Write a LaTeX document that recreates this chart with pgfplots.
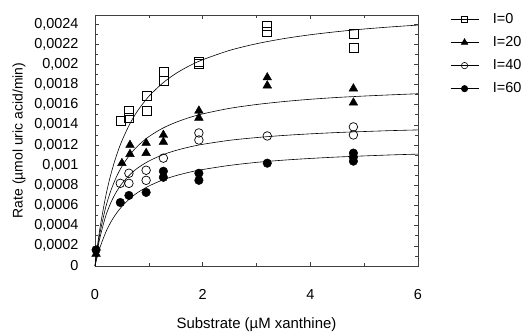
\documentclass[border=0pt]{standalone}
\usepackage{fontspec}
\setmainfont{Liberation Sans}
\usepackage{pgfplots}
\pgfplotsset{compat=1.18}
\begin{document}
\begin{tikzpicture}[x=1bp,y=1bp]
\begin{axis}[
  scale only axis, width=323bp, height=251bp,
  xmin=0, xmax=6, ymin=0, ymax=0.00249,
  xtick={0,2,4,6}, minor xtick={1,3,5},
  ytick={0,0.0002,...,0.0024}, minor ytick={0.0001,0.0003,...,0.0023},
  tick align=inside, major tick length=4bp, minor tick length=3bp,
  scaled y ticks=false, scaled x ticks=false,
  /pgf/number format/assume math mode=true,
  yticklabel style={/pgf/number format/fixed, /pgf/number format/precision=4, /pgf/number format/use comma, font=\fontsize{14.5}{16}\selectfont, xshift=-13bp},
  xticklabel style={font=\fontsize{14.5}{16}\selectfont, yshift=-20bp},
  xlabel={Substrate (µM xanthine)}, ylabel={Rate (µmol uric acid/min)},
  xlabel style={font=\fontsize{15}{17}\selectfont, yshift=-11bp},
  ylabel style={font=\fontsize{14}{16}\selectfont, yshift=2bp},
  axis line style={black!75, line width=0.8pt},
  every tick/.style={black!75, line width=0.6pt},
  legend style={draw=none, at={(1.09,1.022)}, anchor=north west, font=\fontsize{14.5}{16}\selectfont, row sep=7.5bp, fill=none},
  legend image code/.code={\draw[mark repeat=2,mark phase=2] plot coordinates {(0bp,0bp) (14bp,0bp) (28bp,0bp)};},
  legend cell align=left,
  clip=false,
]
% legend series (markers with line)
\addlegendimage{black, line width=0.6pt, mark=square, mark size=3.2bp, mark options={solid, fill=white}}
\addlegendentry{\hspace*{12bp}I=0}
\addlegendimage{black, line width=0.6pt, mark=triangle*, mark size=3.8bp, mark options={solid, fill=black}}
\addlegendentry{\hspace*{12bp}I=20}
\addlegendimage{black, line width=0.6pt, mark=o, mark size=3.2bp, mark options={solid, fill=white}}
\addlegendentry{\hspace*{12bp}I=40}
\addlegendimage{black, line width=0.6pt, mark=*, mark size=3.2bp, mark options={solid, fill=black}}
\addlegendentry{\hspace*{12bp}I=60}
% fitted curves
\addplot[black, line width=0.6pt, smooth, forget plot] coordinates {
(0,0) (0.05,0.000217) (0.1,0.000401) (0.2,0.000695) (0.3,0.00092) (0.4,0.001098) (0.5,0.001242) (0.65,0.001413) (0.8,0.001546) (1,0.001683) (1.25,0.001811) (1.5,0.001909) (1.75,0.001985) (2,0.002046) (2.5,0.002139) (3,0.002205) (3.5,0.002255) (4,0.002294) (4.5,0.002325) (5,0.002351) (5.5,0.002372) (6,0.00239)};
\addplot[black, line width=0.6pt, smooth, forget plot] coordinates {
(0,0) (0.05,0.000192) (0.1,0.000348) (0.2,0.000585) (0.3,0.000756) (0.4,0.000886) (0.5,0.000988) (0.65,0.001105) (0.8,0.001194) (1,0.001283) (1.25,0.001365) (1.5,0.001425) (1.75,0.001472) (2,0.001509) (2.5,0.001564) (3,0.001602) (3.5,0.001631) (4,0.001654) (4.5,0.001672) (5,0.001686) (5.5,0.001698) (6,0.001709)};
\addplot[black, line width=0.6pt, smooth, forget plot] coordinates {
(0,0) (0.05,0.000168) (0.1,0.0003) (0.2,0.000497) (0.3,0.000635) (0.4,0.000738) (0.5,0.000817) (0.65,0.000907) (0.8,0.000975) (1,0.001041) (1.25,0.001102) (1.5,0.001146) (1.75,0.00118) (2,0.001207) (2.5,0.001247) (3,0.001274) (3.5,0.001295) (4,0.001311) (4.5,0.001324) (5,0.001334) (5.5,0.001343) (6,0.00135)};
\addplot[black, line width=0.6pt, smooth, forget plot] coordinates {
(0,0) (0.05,0.000106) (0.1,0.000195) (0.2,0.000335) (0.3,0.000441) (0.4,0.000524) (0.5,0.000591) (0.65,0.00067) (0.8,0.000731) (1,0.000793) (1.25,0.000852) (1.5,0.000896) (1.75,0.00093) (2,0.000957) (2.5,0.000998) (3,0.001028) (3.5,0.00105) (4,0.001067) (4.5,0.001081) (5,0.001092) (5.5,0.001102) (6,0.00111)};
% data points
\addplot[only marks, mark=square, mark size=4.5bp, mark options={fill=white, line width=0.7pt}, forget plot] coordinates {
(0.48,0.00144) (0.63,0.00154) (0.63,0.00147) (0.96,0.00169) (0.96,0.00154) (1.28,0.00193) (1.28,0.00184) (1.93,0.00203) (1.93,0.00201) (3.2,0.00238) (3.2,0.00232) (4.8,0.0023) (4.8,0.00216)};
\addplot[only marks, mark=triangle*, mark size=5bp, mark options={fill=black}, forget plot] coordinates {
(0.5,0.00102) (0.65,0.0012) (0.65,0.00111) (0.95,0.00122) (0.95,0.00112) (1.27,0.0013) (1.27,0.00123) (1.93,0.00154) (1.93,0.00147) (3.2,0.00187) (3.2,0.00179) (4.8,0.00176) (4.8,0.00162) (0.02,0.00012)};
\addplot[only marks, mark=o, mark size=4.3bp, mark options={fill=white, line width=0.7pt}, forget plot] coordinates {
(0.47,0.00082) (0.63,0.00092) (0.63,0.00082) (0.95,0.00095) (0.95,0.00085) (1.27,0.00107) (1.93,0.00132) (1.93,0.00125) (3.2,0.00129) (4.8,0.00138) (4.8,0.0013)};
\addplot[only marks, mark=*, mark size=4.3bp, mark options={fill=black}, forget plot] coordinates {
(0.47,0.00063) (0.63,0.0007) (0.95,0.00073) (1.27,0.00094) (1.27,0.00088) (1.93,0.00092) (1.93,0.00085) (3.2,0.00102) (4.8,0.00112) (4.8,0.00108) (4.8,0.00104) (0.02,0.00016)};
\path (rel axis cs:0,0) coordinate (bl);
\end{axis}
\pgfresetboundingbox
\path[use as bounding box] (bl) ++(-95bp,-69bp) rectangle ++(527bp,335bp);
\end{tikzpicture}
\end{document}
